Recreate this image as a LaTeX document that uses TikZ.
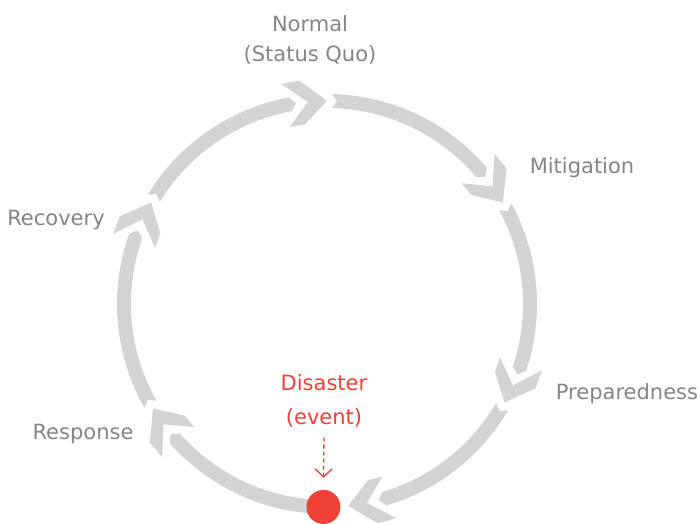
\documentclass[tikz,border=0pt]{standalone}
\usepackage{fontspec}
\setmainfont{DejaVu Sans}
\usetikzlibrary{arrows.meta}
\definecolor{bandgray}{HTML}{D1D3D4}
\definecolor{txtgray}{HTML}{858585}
\definecolor{alertred}{HTML}{EF4136}
\newcommand{\drawseg}[2]{%
  \pgfmathsetmacro{\Ssa}{#1}%
  \pgfmathsetmacro{\Sn}{#1-5*\kk}%
  \pgfmathsetmacro{\Ec}{#2+37*\kk}%
  \pgfmathsetmacro{\Ep}{#2+31*\kk}%
  \pgfmathsetmacro{\Cf}{#2+25*\kk}%
  \pgfmathsetmacro{\Cb}{#2+42*\kk}%
  \pgfmathsetmacro{\Cn}{#2+19*\kk}%
  \fill[bandgray] (\Ssa:\Ro) arc[start angle=\Ssa, end angle=\Ec, radius=\Ro pt]
     -- (\Ep:\Rm) -- (\Ec:\Ri) arc[start angle=\Ec, end angle=\Ssa, radius=\Ri pt]
     -- (\Sn:\Rm) -- cycle;
  \fill[bandgray] (#2:\Rm) -- (\Cf:\Rco) -- (\Cb:\Rco) -- (\Cn:\Rm)
     -- (\Cb:\Rci) -- (\Cf:\Rci) -- cycle;
}
\tikzset{
  lbl/.style={text=txtgray, font=\fontsize{21}{30}\selectfont, inner sep=0pt},
  redlbl/.style={text=alertred, font=\fontsize{21}{34}\selectfont, inner sep=0pt, align=center},
}
\begin{document}
\begin{tikzpicture}[x=1pt,y=1pt]
\useasboundingbox (-327,-220) rectangle (372,304);
\pgfmathsetmacro{\kk}{180/(pi*203)}
\pgfmathsetmacro{\Rm}{203}
\pgfmathsetmacro{\Ro}{210}
\pgfmathsetmacro{\Ri}{196}
\pgfmathsetmacro{\Rco}{225}
\pgfmathsetmacro{\Rci}{181}
\drawseg{150-5*\kk}{90}
\drawseg{90-5*\kk}{30}
\drawseg{30-5*\kk}{-29}
\drawseg{-29-5*\kk}{-84}
\drawseg{-92}{-149}
\drawseg{-149-5*\kk}{-210}
\node[circle, fill=alertred, minimum size=34pt, inner sep=0pt] (dot) at (-91:203) {};
\node[lbl, align=center] (normal) at (-17,264) {Normal\\(Status Quo)};
\node[lbl, anchor=base] (mitig) at (255,130) {Mitigation};
\node[lbl, anchor=base] (prep) at (300,-96) {Preparedness};
\node[lbl, anchor=base] (resp) at (-244,-136) {Response};
\node[lbl, anchor=base] (recov) at (-271,78) {Recovery};
\node[redlbl] (dis) at (-3,-97) {Disaster\\(event)};
\draw[alertred, line width=1.3pt, dash pattern=on 4pt off 3pt,
      -{Straight Barb[length=8pt,width=17pt]}]
  ([yshift=-10pt]dis.south) -- ([yshift=12pt]dot.north);
\end{tikzpicture}
\end{document}
